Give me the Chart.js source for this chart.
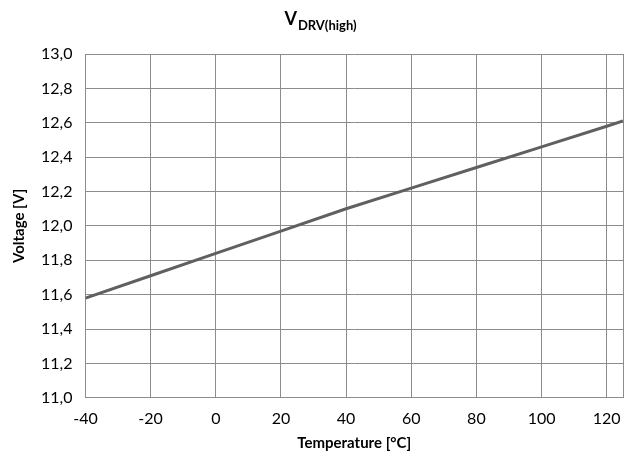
<!DOCTYPE html>
<html>
<head>
<meta charset="utf-8">
<script src="https://cdn.jsdelivr.net/npm/chart.js@4/dist/chart.umd.min.js"></script>
<style>
 html, body { margin: 0; padding: 0; background: #fff; }
 #wrap { width: 634px; height: 464px; }
</style>
</head>
<body>
<div id="wrap"><canvas id="vChart" width="634" height="464"></canvas></div>
<script>
/* ── DATA ───────────────────────────────────────────── */
const temps = [-40, -20, 0, 20, 40, 60, 80, 100, 120, 125];
const volts = [11.58, 11.71, 11.84, 11.97, 12.10, 12.22, 12.34, 12.46, 12.58, 12.61];
const xTicks = [-40, -20, 0, 20, 40, 60, 80, 100, 120, 125];
const yTicks = [11.0, 11.2, 11.4, 11.6, 11.8, 12.0, 12.2, 12.4, 12.6, 12.8, 13.0];

const FONT = 'Lato, "Open Sans", sans-serif';
const GRID = '#8c8c8c';

/* ── TITLE WITH SUBSCRIPT ───────────────────────────── */
const subTitle = {
 id: 'subTitle',
 afterDraw(chart) {
 const c = chart.ctx;
 c.save();
 c.fillStyle = '#000';
 c.textBaseline = 'alphabetic';
 c.font = `bold 18px ${FONT}`;
 const wV = c.measureText('V').width;
 c.font = `bold 13px ${FONT}`;
 const wS = c.measureText('DRV(high)').width;
 const x0 = 320 - (wV + wS) / 2;
 c.font = `bold 18px ${FONT}`;
 c.fillText('V', x0, 25);
 c.font = `bold 13px ${FONT}`;
 c.fillText('DRV(high)', x0 + wV + 1, 30);
 c.restore();
 }
};

new Chart(document.getElementById('vChart').getContext('2d'), {
 type: 'line',
 data: {
 datasets: [{
 data: temps.map((t, i) => ({ x: t, y: volts[i] })),
 borderColor: '#606060',
 borderWidth: 3,
 pointRadius: 0,
 tension: 0,
 fill: false
 }]
 },
 options: {
 responsive: false,
 animation: false,
 layout: { padding: { top: 54, right: 10, left: 10, bottom: 12 } },
 plugins: { legend: { display: false }, tooltip: { enabled: false }, title: { display: false } },
 scales: {
 x: {
 type: 'linear', min: -40, max: 125,
 afterBuildTicks: s => { s.ticks = xTicks.map(v => ({ value: v })); },
 grid: { color: GRID, lineWidth: 1, drawTicks: false },
 border: { color: GRID },
 ticks: {
 color: '#000', padding: 11, maxRotation: 0, autoSkip: false,
 font: { family: FONT, size: 16 },
 callback: v => v === 125 ? '' : String(v)
 },
 title: { display: true, text: 'Temperature [°C]', color: '#000', font: { family: FONT, size: 15, weight: 'bold' }, padding: { top: -5, bottom: 0 } }
 },
 y: {
 type: 'linear', min: 11.0, max: 13.0,
 afterBuildTicks: s => { s.ticks = yTicks.map(v => ({ value: v })); },
 grid: { color: GRID, lineWidth: 1, drawTicks: false },
 border: { color: GRID },
 ticks: {
 color: '#000', padding: 13,
 font: { family: FONT, size: 16 },
 callback: v => v.toFixed(1).replace('.', ',')
 },
 title: { display: true, text: 'Voltage [V]', color: '#000', font: { family: FONT, size: 15, weight: 'bold' }, padding: { top: 0, bottom: 0 } }
 }
 }
 },
 plugins: [subTitle]
});
</script>
</body>
</html>
